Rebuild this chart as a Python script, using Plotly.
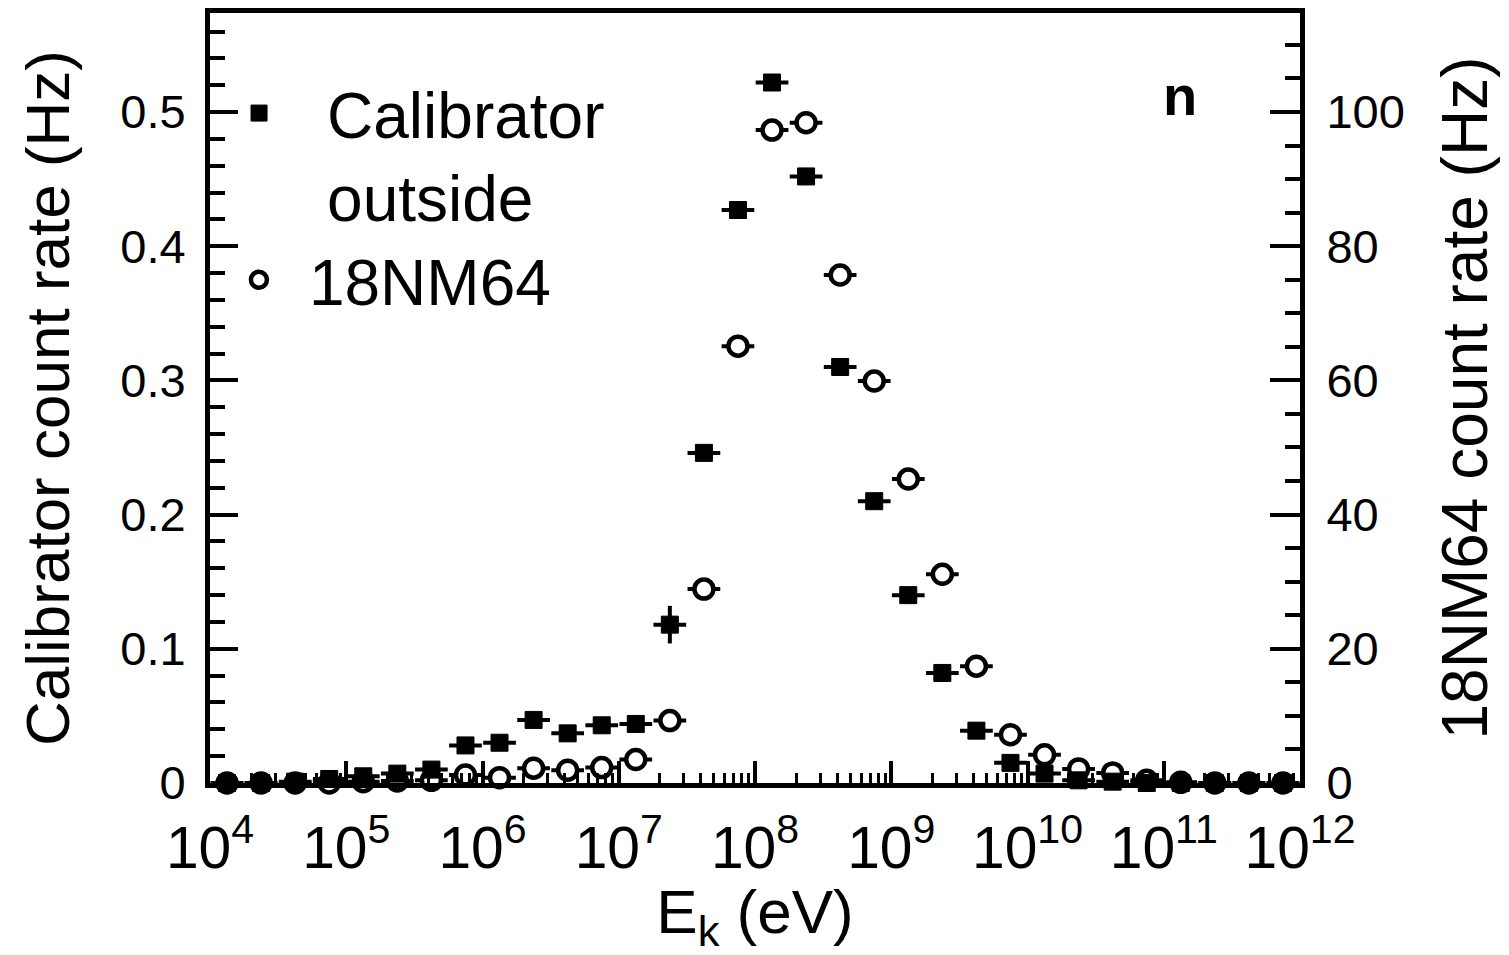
import numpy as np
import plotly.graph_objects as go

# ---- data ----
log_energy_bins = [4.125, 4.375, 4.625, 4.875, 5.125, 5.375, 5.625, 5.875,
                   6.125, 6.375, 6.625, 6.875, 7.125, 7.375, 7.625, 7.875,
                   8.125, 8.375, 8.625, 8.875, 9.125, 9.375, 9.625, 9.875,
                   10.125, 10.375, 10.625, 10.875, 11.125, 11.375, 11.625, 11.875]

calibrator_rate_hz = [0.0, 0.0, 0.001, 0.003, 0.005, 0.007, 0.010, 0.028,
                      0.030, 0.047, 0.037, 0.043, 0.044, 0.118, 0.246, 0.427,
                      0.522, 0.452, 0.310, 0.210, 0.140, 0.082, 0.039, 0.015,
                      0.007, 0.002, 0.001, 0.0, 0.0, 0.0, 0.0, 0.0]

calibrator_err_hz = [0, 0, 0, 0, 0, 0, 0, 0,
                     0, 0, 0, 0, 0, 0.014, 0.003, 0.003,
                     0.003, 0.003, 0.002, 0.002, 0.002, 0, 0, 0,
                     0, 0, 0, 0, 0, 0, 0, 0]

nm64_rate_hz = [0.0, 0.0, 0.0, 0.0, 0.2, 0.3, 0.4, 1.2,
                0.8, 2.2, 1.9, 2.3, 3.5, 9.3, 28.9, 65.1,
                97.3, 98.4, 75.7, 59.9, 45.3, 31.1, 17.4, 7.2,
                4.2, 2.1, 1.5, 0.4, 0.1, 0.0, 0.0, 0.0]

HALF_BIN_DEX = 0.12

E = 10 ** np.array(log_energy_bins)
ex_plus = E * (10 ** HALF_BIN_DEX - 1)
ex_minus = E * (1 - 10 ** -HALF_BIN_DEX)

FONT = "Liberation Sans, Arial, Helvetica, sans-serif"
TICKFONT = dict(family=FONT, size=47, color="black")
TITLEFONT = dict(family=FONT, size=62, color="black")
RTITLEFONT = dict(family=FONT, size=64, color="black")
LEGENDFONT = dict(family=FONT, size=64, color="black")

fig = go.Figure()

fig.add_trace(go.Scatter(
    x=E, y=nm64_rate_hz, yaxis="y", mode="markers", name="18NM64",
    legend="legend2", cliponaxis=False,
    marker=dict(symbol="circle", size=19, color="white",
                line=dict(color="black", width=4.5)),
    error_x=dict(type="data", symmetric=False, array=ex_plus, arrayminus=ex_minus,
                 thickness=4, width=0, color="black"),
))

fig.add_trace(go.Scatter(
    x=E, y=calibrator_rate_hz, yaxis="y2", mode="markers",
    name="Calibrator<br>outside", legend="legend", cliponaxis=False,
    marker=dict(symbol="square", size=17, color="black",
                line=dict(color="black", width=1)),
    error_x=dict(type="data", symmetric=False, array=ex_plus, arrayminus=ex_minus,
                 thickness=4, width=0, color="black"),
    error_y=dict(type="data", array=calibrator_err_hz, thickness=4, width=0,
                 color="black"),
))

axis_common = dict(showline=True, linewidth=5, linecolor="black", showgrid=False,
                   zeroline=False, ticks="inside", tickwidth=4, tickcolor="black",
                   tickfont=TICKFONT, automargin=False)

fig.update_layout(
    width=1509, height=955,
    margin=dict(l=210, r=209, t=13, b=172),
    plot_bgcolor="white", paper_bgcolor="white",
    font=dict(family=FONT, color="black"),
    xaxis=dict(type="log", range=[4, 12], dtick=1, exponentformat="power",
               mirror=True, ticklen=22, ticklabelstandoff=12,
               minor=dict(ticks="inside", ticklen=10, tickwidth=3,
                          tickcolor="black", dtick="D1", showgrid=False),
               title=dict(text="E<sub>k</sub> (eV)", font=TITLEFONT, standoff=14),
               **axis_common),
    yaxis=dict(side="right", range=[0, 114.75], dtick=20, tick0=0, ticklen=30,
               ticklabelstandoff=12,
               minor=dict(ticks="inside", ticklen=15, tickwidth=4,
                          tickcolor="black", dtick=5, tick0=0, showgrid=False),
               title=dict(text="18NM64 count rate (Hz)", font=RTITLEFONT, standoff=40),
               **axis_common),
    yaxis2=dict(overlaying="y", side="left", range=[0, 0.5738], dtick=0.1, tick0=0,
                ticklen=28, ticklabelstandoff=10,
                minor=dict(ticks="inside", ticklen=15, tickwidth=4,
                           tickcolor="black", dtick=0.02, tick0=0, showgrid=False),
                title=dict(text="Calibrator count rate (Hz)", font=TITLEFONT, standoff=32),
                **axis_common),
    showlegend=True,
    legend=dict(x=-0.0174, y=0.9325, xanchor="left", yanchor="top",
                font=LEGENDFONT, bgcolor="rgba(0,0,0,0)", itemwidth=126,
                valign="top"),
    legend2=dict(x=-0.001, y=0.716, xanchor="left", yanchor="top",
                 font=LEGENDFONT, bgcolor="rgba(0,0,0,0)", itemwidth=90,
                 valign="middle"),
    annotations=[dict(text="<b>n</b>", x=0.89, y=0.893, xref="paper", yref="paper",
                      showarrow=False, xanchor="center", yanchor="middle",
                      font=dict(family=FONT, size=56, color="black"))],
)

fig.write_html("out.html")
